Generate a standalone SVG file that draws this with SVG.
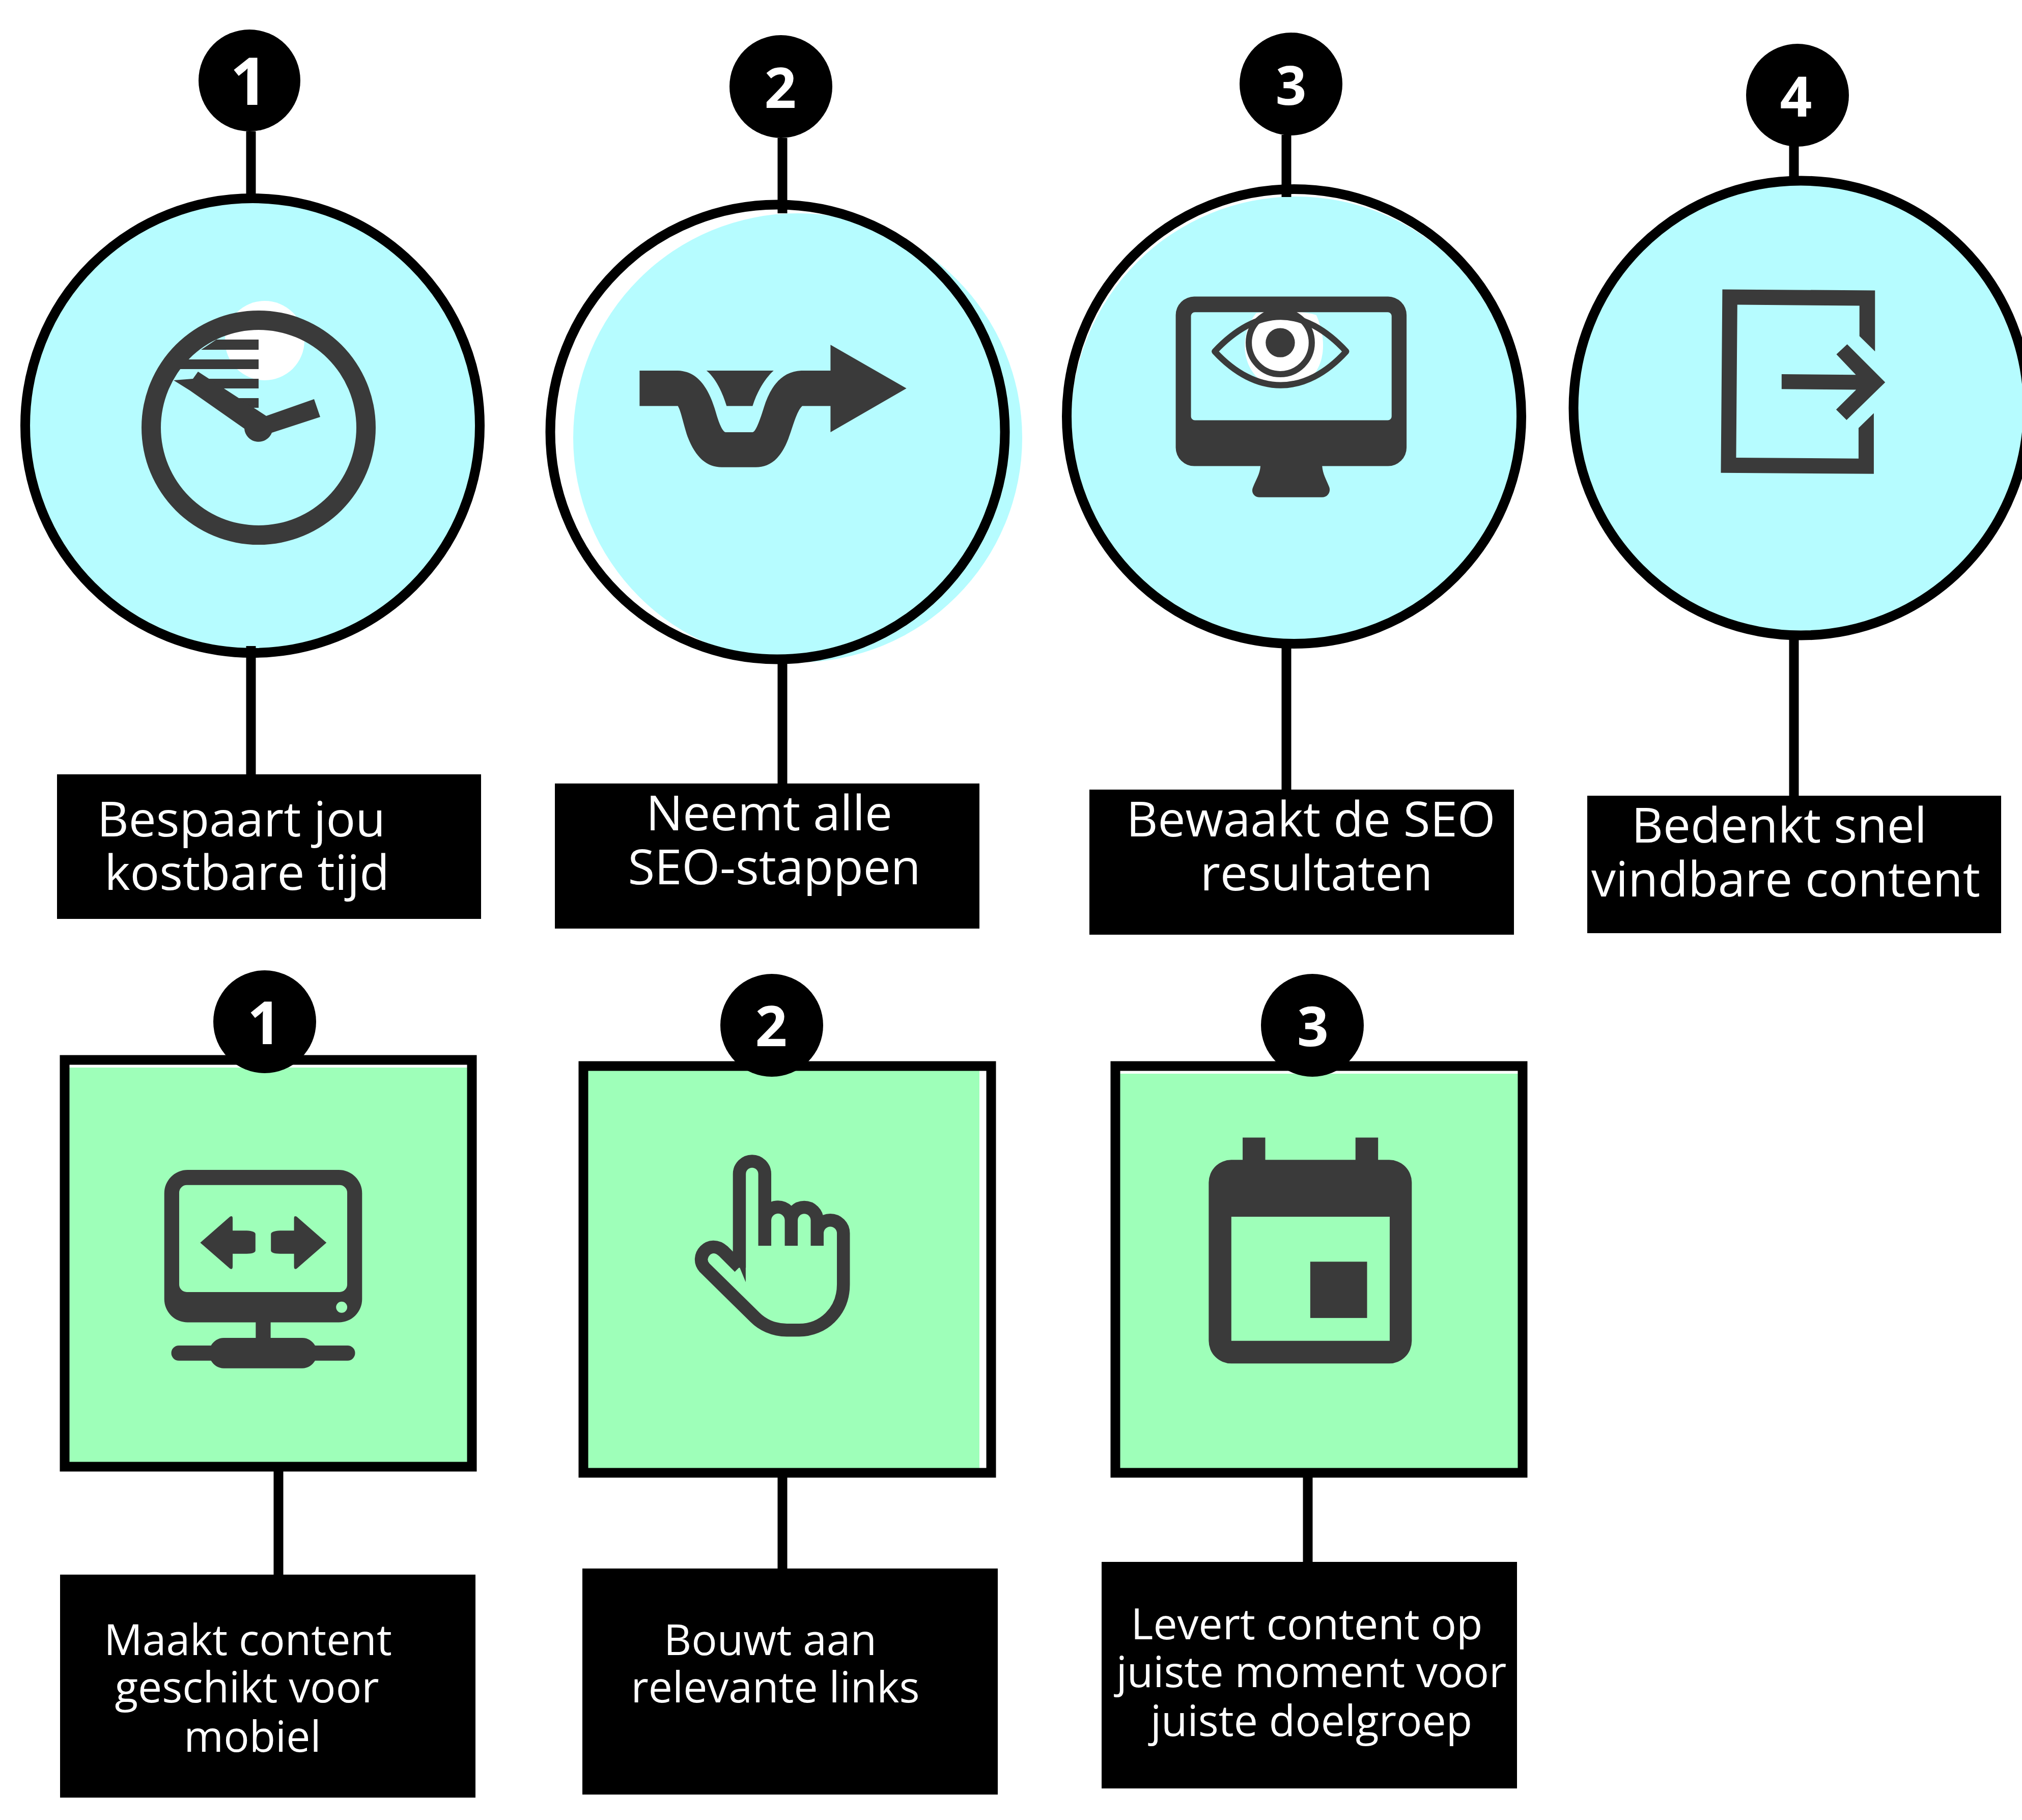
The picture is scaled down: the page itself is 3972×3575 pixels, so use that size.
<svg xmlns="http://www.w3.org/2000/svg" width="3972" height="3575" viewBox="0 0 3972 3575">
<style>
.bf{fill:#b6fcff}.gf{fill:#9effb9}.ic{fill:#3a3a3a}
.ring{fill:none;stroke:#000;stroke-width:19}
.badge{fill:#000}
.box{fill:#000}
.num{font-family:"Open Sans",sans-serif;font-weight:700;font-size:110px;fill:#fff;text-anchor:middle}
.lb{font-family:"Open Sans",sans-serif;font-size:96px;fill:#fff;text-anchor:middle}
.ls{font-family:"Open Sans",sans-serif;font-size:84px;fill:#fff;text-anchor:middle}
.cn{stroke:#000;stroke-width:19;fill:none}
</style>
<rect width="3972" height="3575" fill="#fff"/>
<g id="c1"><circle class="bf" cx="496" cy="834" r="446"/><circle cx="520" cy="669" r="78" fill="#fff"/><circle class="ring" cx="496" cy="836" r="446.5"/>
<g class="ic"><path fill-rule="evenodd" d="M278,840a230,230 0 1,0 460,0a230,230 0 1,0 -460,0zM316,840a192,192 0 1,1 384,0a192,192 0 1,1 -384,0z"/>
<path d="M425,667H508V687H395ZM355,706H508V725H345ZM341,744H508V763H420L389,744ZM460,782H508V801H490Z"/>
<path d="M341,747L379,744L389,730L523,817L617,784L629,819L534,850A28,28 0 0 1 480,842L373,767Z"/></g></g>
<g id="c2"><circle class="bf" cx="1567" cy="860" r="441"/><circle class="ring" cx="1527.5" cy="848.5" r="446.5"/>
<g class="ic" transform="translate(1000,0) scale(.6378,.8291)"><path d="M402,878H520C590,880 620,930 640,985C650,1010 660,1024 668,1024H750C760,1024 775,990 785,965C805,915 840,880 900,878H990V817L1224,920L990,1024V962H903C885,975 875,1010 860,1040C835,1090 800,1107 760,1107H655C610,1107 575,1085 550,1035C535,1000 530,975 520,962H402Z"/><path d="M608,878H815C790,895 765,925 750,962H670C655,925 635,895 608,878Z"/></g></g>
<g id="c3"><circle class="bf" cx="2546" cy="828" r="442"/><circle class="ring" cx="2542" cy="818" r="446.5"/>
<g transform="translate(2050,300) scale(.6378)"><path fill="#fff" d="M655,494C700,485 790,485 840,500C880,590 860,680 800,708H680C610,670 600,560 655,494Z"/>
<path class="ic" fill-rule="evenodd" d="M465,443H1060A57,57 0 0 1 1118,500V908A57,57 0 0 1 1060,965H858C860,990 870,1005 880,1030C885,1045 875,1061 858,1061H665C648,1061 638,1045 645,1030C655,1005 666,990 668,965H465A57,57 0 0 1 407,908V500A57,57 0 0 1 465,443ZM466,491A12,12 0 0 0 454,503V812A12,12 0 0 0 466,824H1060A12,12 0 0 0 1072,812V503A12,12 0 0 0 1060,491Z"/>
<path fill="none" stroke="#3a3a3a" stroke-width="19" stroke-linejoin="round" d="M527,612C590,545 660,505 730,505C800,505 870,545 932,612C870,680 800,716 730,716C660,716 590,680 527,612Z"/>
<circle cx="729" cy="585" r="97" fill="none" stroke="#3a3a3a" stroke-width="19"/><circle class="ic" cx="729" cy="585" r="45"/></g></g>
<g id="c4"><circle class="bf" cx="3537" cy="801" r="447"/><circle class="ring" cx="3537.5" cy="801.5" r="446.5"/>
<g class="ic" transform="translate(3050,300) scale(.588,.6378)"><path d="M567,421L1077,424V612L1025,565V471L617,468L613,939L1022,942V848L1073,802V989L562,986Z"/><path d="M765,682L1013,684L948,621L984,590L1111,707L982,823L947,791L1014,730L765,728Z"/></g></g>
<g id="s1"><rect class="gf" x="136" y="2097" width="782" height="775"/><rect fill="none" stroke="#000" stroke-width="19" x="127" y="2082" width="800" height="799"/>
<g class="ic" transform="translate(100,2050) scale(.574)"><path fill-rule="evenodd" d="M468,432H985A80,80 0 0 1 1065,512V874A80,80 0 0 1 985,954H752V1007H860C880,1007 895,1018 904,1033H1015A26,26 0 0 1 1015,1085H904C895,1100 880,1111 860,1111H592C572,1111 557,1100 548,1085H438A26,26 0 0 1 438,1033H548C557,1018 572,1007 592,1007H701V954H468A80,80 0 0 1 388,874V512A80,80 0 0 1 468,432ZM465,484A26,26 0 0 0 439,510V824A26,26 0 0 0 465,850H988A26,26 0 0 0 1014,824V510A26,26 0 0 0 988,484ZM995,883A19,19 0 1 0 995,921A19,19 0 1 0 995,883Z"/><path d="M511,681L613,592Q622,587 622,598V640H670Q700,642 700,652V708Q700,718 670,719H622V762Q622,775 613,770ZM943,681L841,592Q832,587 832,598V640H784Q753,642 753,652V708Q753,718 784,719H832V762Q832,775 841,770Z"/></g></g>
<g id="s2"><rect class="gf" x="1155" y="2103" width="769" height="781"/><rect fill="none" stroke="#000" stroke-width="19" x="1146" y="2094" width="801" height="799"/>
<g transform="translate(1150,2100) scale(.542)"><path fill="none" stroke="#3a3a3a" stroke-width="47" d="M558,720V380A46,46 0 0 1 650,380V640M650,570V548A46,46 0 0 1 746,548V640M746,570V548A46,46 0 0 1 840,548V640M840,595A47,47 0 0 1 935,595V780C935,880 860,946 775,946H730C680,946 640,925 615,900L432,720C395,680 450,615 500,660L558,718"/><path class="ic" d="M535,660L581,772V640H535Z"/></g></g>
<g id="s3"><rect class="gf" x="2200" y="2109" width="782" height="775"/><rect fill="none" stroke="#000" stroke-width="19" x="2191" y="2094" width="800" height="799"/>
<g class="ic" transform="translate(2150,2100) scale(.542)"><path fill-rule="evenodd" d="M537,248H619V329H946V248H1028V329H1068A82,82 0 0 1 1150,411V985A82,82 0 0 1 1068,1067H496A82,82 0 0 1 414,985V411A82,82 0 0 1 496,329H537ZM496,535V985H1070V535Z"/><rect x="782" y="698" width="206" height="204"/></g></g>
<g id="connectors">
<path class="cn" d="M493,258V385M493,1269V1525M1537,271V419M1537,1295V1540M2527,265V387M2527,1265V1552M3524,285V350M3524,1250V1565M547,2885V3095M1537,2898V3082M2569,2898V3070"/>
</g>
<g id="b1"><circle class="badge" cx="490" cy="158" r="100"/><text class="num" x="489" y="206" style="font-size:130px">1</text></g>
<g id="b2"><circle class="badge" cx="1534" cy="170" r="101"/><text class="num" x="1533" y="212">2</text></g>
<g id="b3"><circle class="badge" cx="2536" cy="165" r="101"/><text class="num" x="2536" y="206" style="font-size:106px">3</text></g>
<g id="b4"><circle class="badge" cx="3531" cy="187" r="101"/><text class="num" x="3528" y="229">4</text></g>
<g id="b5"><circle class="badge" cx="520" cy="2007" r="101"/><text class="num" x="519" y="2051" style="font-size:116px">1</text></g>
<g id="b6"><circle class="badge" cx="1516" cy="2014" r="101"/><text class="num" x="1515" y="2055">2</text></g>
<g id="b7"><circle class="badge" cx="2578" cy="2014" r="101"/><text class="num" x="2579" y="2055" style="font-size:108px">3</text></g>
<g id="l1"><rect class="box" x="112" y="1521" width="833" height="284"/><text class="lb" x="474" y="1643">Bespaart jou</text><text class="lb" x="485" y="1748">kostbare tijd</text></g>
<g id="l2"><rect class="box" x="1090" y="1539" width="834" height="285"/><text class="lb" x="1511" y="1631">Neemt alle</text><text class="lb" x="1521" y="1737">SEO-stappen</text></g>
<g id="l3"><rect class="box" x="2140" y="1551" width="834" height="285"/><text class="lb" x="2575" y="1643">Bewaakt de SEO</text><text class="lb" x="2586" y="1749">resultaten</text></g>
<g id="l4"><rect class="box" x="3118" y="1563" width="813" height="270"/><text class="lb" x="3495" y="1655">Bedenkt snel</text><text class="lb" x="3508" y="1761">vindbare content</text></g>
<g id="l5"><rect class="box" x="118" y="3093" width="816" height="438"/><text class="ls" x="487" y="3251">Maakt content</text><text class="ls" x="485" y="3344">geschikt voor</text><text class="ls" x="496" y="3441">mobiel</text></g>
<g id="l6"><rect class="box" x="1144" y="3081" width="816" height="444"/><text class="ls" x="1513" y="3251">Bouwt aan</text><text class="ls" x="1523" y="3344">relevante links</text></g>
<g id="l7"><rect class="box" x="2164" y="3068" width="816" height="445"/><text class="ls" x="2567" y="3220">Levert content op</text><text class="ls" x="2576" y="3314">juiste moment voor</text><text class="ls" x="2576" y="3410">juiste doelgroep</text></g>
</svg>
